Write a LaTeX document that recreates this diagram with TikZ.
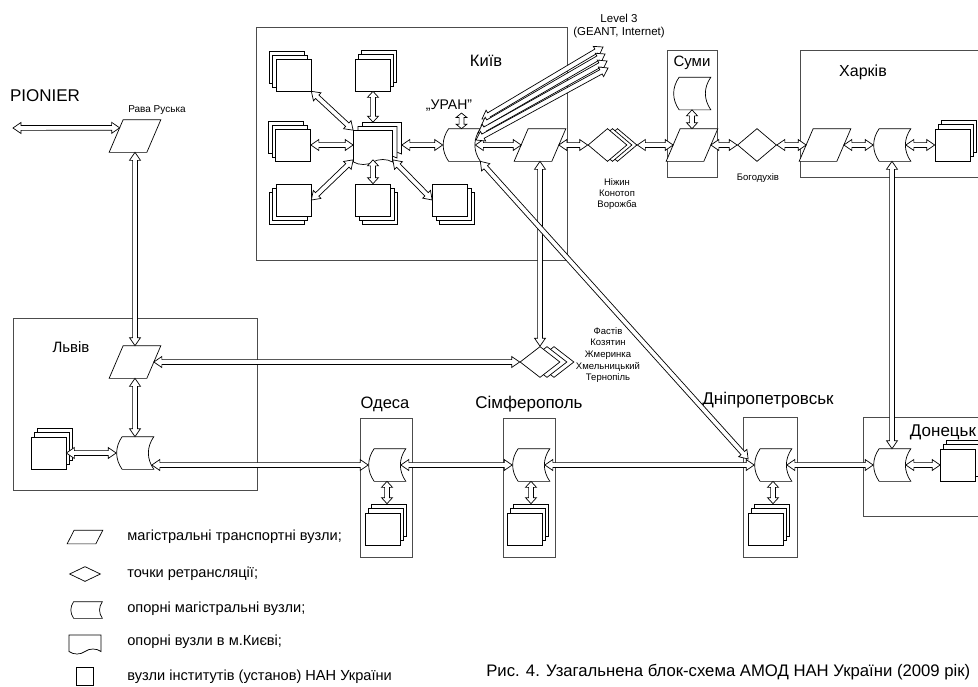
\documentclass[tikz,border=0pt]{standalone}
\usepackage{fontspec}
\setmainfont{Liberation Sans}
\usepackage{tikz}
\usetikzlibrary{calc}
\usetikzlibrary{shapes.geometric}
\usetikzlibrary{shapes.symbols}
\usetikzlibrary{shadows}

% hollow double-headed block arrow between two named points
\newcommand{\barr}[3][8pt]{%
  \draw[blockarrow] let \p1=($(#3)-(#2)$), \n1={atan2(\y1,\x1)} in
    (#2) -- ($(#2)+(\n1:#1)+(\n1+90:5.5pt)$) -- ($(#2)+(\n1:#1)+(\n1+90:2.4pt)$)
    -- ($(#3)-(\n1:#1)+(\n1+90:2.4pt)$) -- ($(#3)-(\n1:#1)+(\n1+90:5.5pt)$)
    -- (#3) -- ($(#3)-(\n1:#1)+(\n1-90:5.5pt)$) -- ($(#3)-(\n1:#1)+(\n1-90:2.4pt)$)
    -- ($(#2)+(\n1:#1)+(\n1-90:2.4pt)$) -- ($(#2)+(\n1:#1)+(\n1-90:5.5pt)$) -- cycle;}

\tikzset{
  blockarrow/.style={draw=black, fill=white, line width=0.7pt, line join=miter},
  frame/.style={draw=black!70, line width=0.9pt},
  trans/.style={minimum width=51pt, minimum height=32pt, inner sep=0pt},
  relay/.style={diamond, draw, fill=white, minimum width=39pt,
    minimum height=33pt, inner sep=0pt},
  stored/.style={minimum width=37pt, minimum height=32pt, inner sep=0pt},
  inst/.style={draw, fill=white, minimum width=35pt, minimum height=32pt, inner sep=0pt},
  stackur/.style={inst, double copy shadow={shadow xshift=3pt, shadow yshift=4.5pt,
    draw=black, fill=white, line width=0.7pt}},
  stackul/.style={inst, double copy shadow={shadow xshift=-3.5pt, shadow yshift=4pt,
    draw=black, fill=white, line width=0.7pt}},
  stackdl/.style={inst, double copy shadow={shadow xshift=-3.5pt, shadow yshift=-4pt,
    draw=black, fill=white, line width=0.7pt}},
  stackdr/.style={inst, double copy shadow={shadow xshift=3.5pt, shadow yshift=-4pt,
    draw=black, fill=white, line width=0.7pt}},
  doc/.style={tape, tape bend top=none, draw=black, fill=white, inner sep=0pt},
  hubdoc/.style={doc, minimum width=39pt, minimum height=34pt,
    double copy shadow={shadow xshift=4.5pt, shadow yshift=4pt,
    draw=black, fill=white, line width=0.7pt}},
  city/.style={font=\fontsize{16.5}{19}\selectfont, inner sep=1pt},
  small/.style={font=\fontsize{9.5}{11.5}\selectfont, align=center, inner sep=0pt},
  legend/.style={font=\fontsize{14.6}{16}\selectfont, anchor=west, inner sep=0pt},
}

\begin{document}
\begin{tikzpicture}[x=1pt, y=-1pt, line width=0.7pt]
\useasboundingbox (0,0) rectangle (978,686);

% region frames
\draw[frame] (256,27) rectangle (567,260);
\draw[frame] (667,50) rectangle (717,177);
\draw[frame] (800,50) rectangle (1000,177);
\draw[frame] (13,318) rectangle (257,490);
\draw[frame] (360,418) rectangle (412,557);
\draw[frame] (503,418) rectangle (555,557);
\draw[frame] (743,417) rectangle (797,557);
\draw[frame] (863,417) rectangle (1000,516);

% Kyiv
\node[city] (tkyiv) at (486,61) {Київ};
\node[hubdoc] (hub) at (373,145) {};
\node[stackul] (ktl) at (293.5,75) {};
\node[stackur] (ktm) at (373,75) {};
\node[stackul] (kml) at (293,145) {};
\node[stackdl] (kbl) at (293.5,200) {};
\node[stackdr] (kbm) at (373,200) {};
\node[stackdr] (kbr) at (450,200) {};
\node[stored] (uran) at (461.5,145) {};
\node[font=\fontsize{14}{16}\selectfont, inner sep=1pt] (uranlbl) at (449,106) {„УРАН”};
\node[trans] (kyt) at (540,145) {};

% Level 3
\node[font=\fontsize{11.5}{13}\selectfont, align=center, inner sep=0pt] (tl3) at (619,26) {Level 3\\(GEANT, Internet)};

% towards Sumy and Kharkiv
\foreach \k in {3,2,1}
  \node[relay] (niz\k) at (602.5+5*\k,145) {};
\node[small, font=\fontsize{9.5}{11}\selectfont] (tniz) at (617,194) {Ніжин\\Конотоп\\Ворожба};
\node[city, font=\fontsize{15}{17}\selectfont] (tsumy) at (692,63) {Суми};
\node[stored] (sums) at (692,93.5) {};
\node[trans] (sumt) at (692,145) {};
\node[relay] (bogo) at (757,145) {};
\node[small] (tbogo) at (758,178) {Богодухів};
\node[city, font=\fontsize{16}{19}\selectfont] (tkhar) at (863,72) {Харків};
\node[trans] (kht) at (825,145) {};
\node[stored] (khs) at (892,145) {};
\node[stackur] (khi) at (952.5,145) {};

% west
\node[city, font=\fontsize{17}{19}\selectfont] (tpio) at (45,96) {PIONIER};
\node[trans] (rava) at (135,136) {};
\node[small, font=\fontsize{10}{12}\selectfont] (trava) at (157,110) {Рава Руська};
\node[city, font=\fontsize{15}{17}\selectfont] (tlviv) at (71,347) {Львів};
\node[trans] (lvivt) at (135,362) {};
\node[stored] (lvivs) at (135,453) {};
\node[stackur] (lvi) at (48.5,453) {};
\foreach \k in {3,2,1}
  \node[relay, minimum width=40pt, minimum height=31pt] (fas\k) at (533+7*\k,362) {};
\node[small, font=\fontsize{9.5}{11.7}\selectfont] (tfas) at (608,355) {Фастів\\Козятин\\Жмеринка\\Хмельницький\\Тернопіль};

% south row
\node[city] (todesa) at (385,404) {Одеса};
\node[stored] (ods) at (387,465) {};
\node[stackur] (odi) at (383,529) {};
\node[city, font=\fontsize{17}{19}\selectfont] (tsimf) at (529,404) {Сімферополь};
\node[stored] (sims) at (531,465) {};
\node[stackur] (simi) at (524.5,529) {};
\node[city, font=\fontsize{17}{19}\selectfont] (tdnipro) at (768,400) {Дніпропетровськ};
\node[stored] (dns) at (773,465) {};
\node[stackur] (dni) at (766,529) {};
\node[city, font=\fontsize{17}{19}\selectfont] (tdon) at (943,432) {Донецьк};
\node[stored] (dons) at (892,465) {};
\node[stackur] (doni) at (958,465) {};

% legend
\node[trans, minimum width=35pt, minimum height=13pt] (lpar) at (85,537) {};
\node[relay, minimum width=31pt, minimum height=15pt] (lrel) at (85,574) {};
\node[stored, minimum width=32pt, minimum height=16pt] (lsto) at (86,610) {};
\node[doc, minimum width=32pt, minimum height=19pt] (ldoc) at (85,642) {};
\node[inst, minimum width=17pt, minimum height=18pt] (lsq) at (84.5,676) {};
\node[legend] (tl1) at (127,537) {магістральні транспортні вузли;};
\node[legend] (tl2) at (127,574) {точки ретрансляції;};
\node[legend] (tl3b) at (127,609) {опорні магістральні вузли;};
\node[legend] (tl4) at (127,642) {опорні вузли в м.Києві;};
\node[legend] (tl5) at (127,677) {вузли інститутів (установ) НАН України};
\node[anchor=west, inner sep=0pt, font=\fontsize{16.7}{19}\selectfont] (capt) at (486,672) {Рис. 4. Узагальнена блок-схема АМОД НАН України (2009 рік)};

% transport node outlines (parallelograms)
\foreach \n/\sl in {rava/14,lvivt/14,kyt/14,sumt/14,kht/14,lpar/7} {
  \draw[fill=white] ([xshift=\sl pt]\n.north west) -- (\n.north east)
    -- ([xshift=-\sl pt]\n.south east) -- (\n.south west) -- cycle;
  \coordinate (\n-l) at ($(\n.west)+(0.5*\sl,0)$);
  \coordinate (\n-r) at ($(\n.east)-(0.5*\sl,0)$);
}

% stored data outlines
\foreach \n/\bw in {uran/6,sums/6,khs/6,lvivs/6,ods/6,sims/6,dns/6,dons/6,lsto/4} {
  \draw[fill=white] ([xshift=\bw pt]\n.north west) -- (\n.north east)
    to[bend right=35] (\n.south east) -- ([xshift=\bw pt]\n.south west)
    to[bend left=35] ([xshift=\bw pt]\n.north west) -- cycle;
  \coordinate (\n-in) at ([xshift=-5pt]\n.east);
}

% helper points
\coordinate (pio) at (13,128);
\path ([xshift=14pt]rava.north west) -- (rava.south west) coordinate[pos=0.25] (ravaw);
\path (lvivs.east) ++(-2,12) coordinate (lvivr);
\path (dns.west) ++(-6,-6) coordinate (dnsnw);
\path (hub.north) ++(0,-8) coordinate (hubtop);
\path (hub.east) ++(9,0) coordinate (hubr);
\coordinate (uranup) at (uran.north |- uranlbl.south);
\path (ods.south |- odi.north) ++(0,-9) coordinate (odtop);
\path (sims.south |- simi.north) ++(0,-9) coordinate (simtop);
\path (dns.south |- dni.north) ++(0,-9) coordinate (dntop);

% links
\barr{pio}{ravaw}
\barr{rava.south}{lvivt.north}
\barr{lvivt.south}{lvivs.north}
\barr{lvi.east}{lvivs.west}
\barr{lvivt-r}{fas1.west}
\barr{lvivr}{ods.west}
\barr{ods-in}{sims.west}
\barr{sims-in}{dns.west}
\barr{dns-in}{dons.west}
\barr{dons-in}{doni.west}
\barr[6pt]{ods.south}{odtop}
\barr[6pt]{sims.south}{simtop}
\barr[6pt]{dns.south}{dntop}
\barr{kyt.south}{fas1.north}
\barr{khs.south}{dons.north}
\barr{uran.south east}{dnsnw}
\barr{uran-in}{kyt-l}
\barr{kyt-r}{niz1.west}
\barr{niz3.east}{sumt-l}
\barr[6pt]{sums.south}{sumt.north}
\barr{sumt-r}{bogo.west}
\barr{bogo.east}{kht-l}
\barr{kht-r}{khs.west}
\barr{khs-in}{khi.west}
\barr[4.5pt]{uran.north}{uranup}

% Kyiv inner links
\barr{hub.north west}{ktl.south east}
\barr[6pt]{hubtop}{ktm.south}
\barr{hub.west}{kml.east}
\barr{hub.south west}{kbl.east}
\barr[6pt]{hub.south}{kbm.north}
\barr{hub.south east}{kbr.west}
\barr{hubr}{uran.west}

% uplinks to Level 3
\foreach \k/\xa/\xb in {0/482/603,1/481/605,2/478/607,3/476/608} {
  \coordinate (ua\k) at (\xa,119+7*\k);
  \coordinate (lb\k) at (\xb,47+7*\k);
  \barr{ua\k}{lb\k}
}

\end{tikzpicture}
\end{document}
